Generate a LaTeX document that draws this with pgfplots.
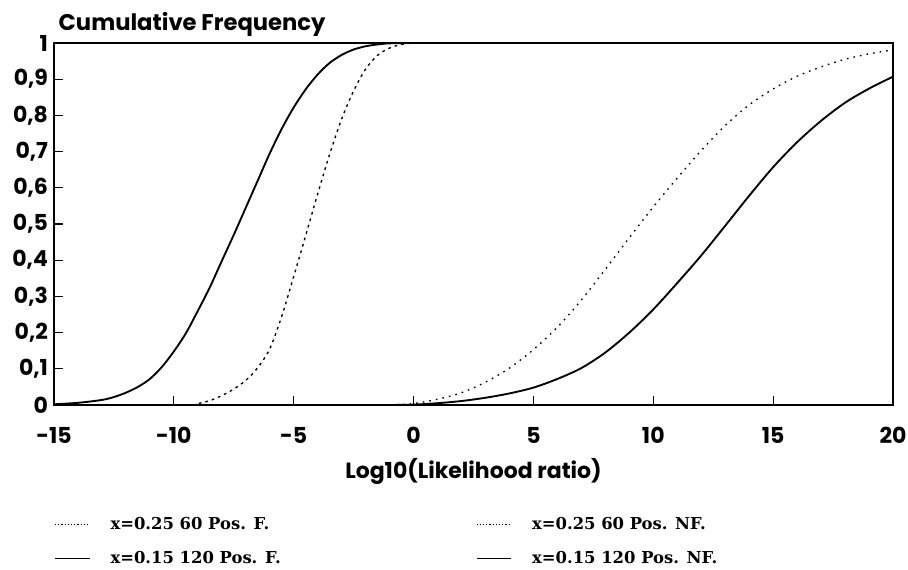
\documentclass[border=0pt]{standalone}
\usepackage{fontspec}
\setmainfont{Poppins}
\newfontfamily\legfont{DejaVu Serif}
\usepackage{pgfplots}
\pgfplotsset{compat=1.18}

\begin{document}
\begin{tikzpicture}
\useasboundingbox (-40.5pt,-123.75pt) rectangle (640.5pt,303.75pt);
\begin{axis}[
  at={(0,0)}, anchor=south west,
  scale only axis, width=629.25pt, height=271.5pt,
  xmin=-15, xmax=20, ymin=0, ymax=1,
  xtick={-15,-10,-5,0,5,10,15,20},
  ytick={0,0.1,0.2,0.3,0.4,0.5,0.6,0.7,0.8,0.9,1},
  xtick pos=bottom, ytick pos=left, tick align=inside,
  major tick length=7pt,
  axis line style={line width=1pt},
  tick style={line width=0.8pt, black},
  /pgf/number format/assume math mode=true,
  /pgf/number format/.cd, fixed, precision=1, use comma, /pgfplots/.cd,
  ticklabel style={font=\bfseries\fontsize{16.5}{19}\selectfont},
  xticklabel style={yshift=-13pt},
  yticklabel style={xshift=-1pt},
  xlabel={Log10(Likelihood ratio)},
  xlabel style={font=\bfseries\fontsize{16.5}{19}\selectfont, at={(axis description cs:0.5,0)}, anchor=base, yshift=-55pt},
  clip=false,
  legend columns=2,
  legend cell align=left,
  legend image code/.code={\draw[#1] (0pt,0pt) -- (26pt,0pt);},
  legend style={at={(axis description cs:0,0)}, anchor=north west, yshift=-82pt, draw=none, fill=none,
    font=\legfont\bfseries\fontsize{12.3}{14}\selectfont, row sep=11pt, inner sep=0pt},
]
\node[anchor=base west, font=\bfseries\fontsize{17}{19}\selectfont] at (rel axis cs:0,1) [yshift=9pt] {Cumulative Frequency};

% x=0.25 60 Pos. F.
\addplot[black, line width=1pt, dash pattern=on 2pt off 3pt, smooth, forget plot] coordinates {
(-15,0) (-9.5,0) (-9,0.004) (-8.5,0.012) (-8,0.026) (-7.5,0.044) (-7,0.068) (-6.5,0.103)
(-6,0.155) (-5.5,0.245) (-5,0.355) (-4.5,0.468) (-4,0.583) (-3.5,0.693) (-3,0.79)
(-2.5,0.868) (-2,0.928) (-1.5,0.966) (-1,0.986) (-0.5,0.996) (0,1) (1,1)
};
% x=0.25 60 Pos. NF.
\addplot[black, line width=1pt, dash pattern=on 1.2pt off 3.8pt, smooth, forget plot] coordinates {
(-1,0) (0,0.004) (1,0.016) (2,0.034) (3,0.063) (4,0.102) (5,0.153) (6,0.215) (7,0.29)
(8,0.375) (9,0.462) (10,0.547) (11,0.627) (12,0.703) (13,0.772) (14,0.829) (15,0.873)
(16,0.908) (17,0.934) (18,0.955) (19,0.97) (20,0.981)
};
% x=0.15 120 Pos. F.
\addplot[black, line width=1.4pt, smooth, forget plot] coordinates {
(-15,0.002) (-14,0.006) (-13,0.014) (-12.5,0.022) (-12,0.034) (-11.5,0.05) (-11,0.072)
(-10.5,0.105) (-10,0.148) (-9.5,0.198) (-9,0.26) (-8.5,0.325) (-8,0.398) (-7.5,0.47)
(-7,0.545) (-6.5,0.62) (-6,0.695) (-5.5,0.763) (-5,0.822) (-4.5,0.872) (-4,0.913)
(-3.5,0.945) (-3,0.967) (-2.5,0.982) (-2,0.991) (-1.5,0.996) (-1,0.999) (0,1) (1,1)
};
% x=0.15 120 Pos. NF.
\addplot[black, line width=1.4pt, smooth, forget plot] coordinates {
(-1,0) (0,0.001) (1,0.005) (2,0.011) (3,0.02) (4,0.032) (5,0.048) (6,0.072) (7,0.102)
(8,0.145) (9,0.20) (10,0.264) (11,0.337) (12,0.413) (13,0.495) (14,0.578) (15,0.657)
(16,0.726) (17,0.785) (18,0.835) (19,0.874) (20,0.907)
};

\addlegendimage{black, line width=0.5pt, dash pattern=on 0.8pt off 1.6pt}
\addlegendentry{\hspace{13pt}\makebox[272pt][l]{x=0.25 60 Pos. F.}}
\addlegendimage{black, line width=0.5pt, dash pattern=on 0.8pt off 1.6pt}
\addlegendentry{\hspace{13pt}x=0.25 60 Pos. NF.}
\addlegendimage{black, line width=1.2pt}
\addlegendentry{\hspace{13pt}\makebox[272pt][l]{x=0.15 120 Pos. F.}}
\addlegendimage{black, line width=1.2pt}
\addlegendentry{\hspace{13pt}x=0.15 120 Pos. NF.}
\end{axis}
\end{tikzpicture}
\end{document}
